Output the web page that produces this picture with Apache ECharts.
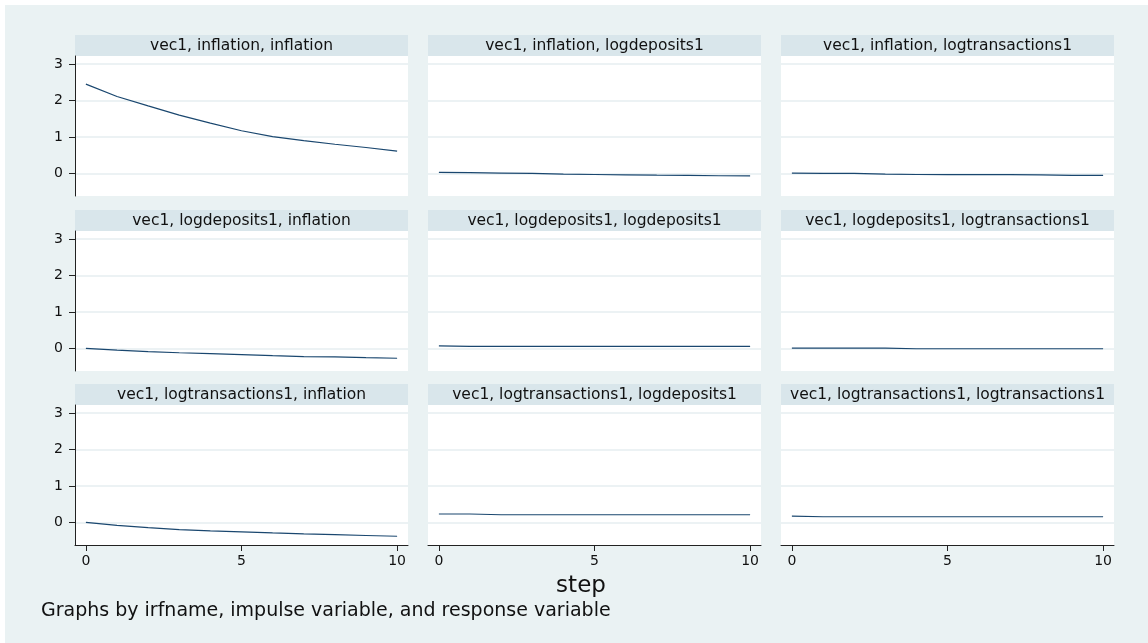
<!DOCTYPE html>
<html>
<head>
<meta charset="utf-8">
<script src="https://cdn.jsdelivr.net/npm/echarts@6/dist/echarts.min.js"></script>
<style>
  html, body { margin: 0; padding: 0; background: #fff; }
  #chart { width: 1148px; height: 643px; }
</style>
</head>
<body>
<div id="chart"></div>
<script>
// irf steps and variables
var steps = [0, 1, 2, 3, 4, 5, 6, 7, 8, 9, 10];
var impulses = ['inflation', 'logdeposits1', 'logtransactions1'];
var responses = ['inflation', 'logdeposits1', 'logtransactions1'];
var xTicks = [0, 5, 10];
var yTicks = [0, 1, 2, 3];

// impulse inflation
var irf_inf_inf = [2.45, 2.11, 1.85, 1.60, 1.38, 1.17, 1.01, 0.90, 0.80, 0.71, 0.61];
var irf_inf_dep = [0.03, 0.02, 0.01, 0.0, -0.02, -0.03, -0.04, -0.05, -0.055, -0.065, -0.07];
var irf_inf_trn = [0.01, 0.0, 0.0, -0.02, -0.03, -0.035, -0.035, -0.035, -0.04, -0.055, -0.055];
// impulse logdeposits1
var irf_dep_inf = [0.0, -0.05, -0.09, -0.12, -0.145, -0.17, -0.2, -0.225, -0.235, -0.255, -0.27];
var irf_dep_dep = [0.07, 0.055, 0.055, 0.055, 0.055, 0.055, 0.055, 0.055, 0.055, 0.055, 0.055];
var irf_dep_trn = [0.01, 0.01, 0.01, 0.01, -0.01, -0.01, -0.01, -0.01, -0.01, -0.01, -0.01];
// impulse logtransactions1
var irf_trn_inf = [0.0, -0.08, -0.145, -0.2, -0.235, -0.26, -0.29, -0.315, -0.335, -0.36, -0.38];
var irf_trn_dep = [0.23, 0.23, 0.21, 0.21, 0.21, 0.21, 0.21, 0.21, 0.21, 0.21, 0.21];
var irf_trn_trn = [0.17, 0.155, 0.155, 0.155, 0.155, 0.155, 0.155, 0.155, 0.155, 0.155, 0.155];

var irf = [
  [irf_inf_inf, irf_inf_dep, irf_inf_trn],
  [irf_dep_inf, irf_dep_dep, irf_dep_trn],
  [irf_trn_inf, irf_trn_dep, irf_trn_trn]
];

var colLeft = [75, 428, 781];
var rowTop = [56, 231, 405];
var plotW = 333, plotH = 140, stripH = 21;
var font = 'DejaVu Sans';

var chart = echarts.init(document.getElementById('chart'));

var grids = [], xAxes = [], yAxes = [], series = [];
var graphics = [
  { type: 'rect', left: 5, top: 5, shape: { width: 1143, height: 638 }, style: { fill: '#eaf2f3' }, z: -10 }
];

for (var r = 0; r < 3; r++) {
  for (var c = 0; c < 3; c++) {
    var i = r * 3 + c;
    grids.push({
      left: colLeft[c], top: rowTop[r], width: plotW, height: plotH,
      show: true, backgroundColor: '#fff', borderWidth: 0
    });
    var bottomRow = (r == 2);
    var firstCol = (c == 0);
    xAxes.push({
      type: 'value', gridIndex: i, min: -0.35, max: 10.35,
      axisLine: { show: bottomRow, onZero: false, lineStyle: { color: '#222', width: 1 } },
      axisTick: { show: bottomRow, customValues: xTicks, length: 6, lineStyle: { color: '#222' } },
      axisLabel: { show: bottomRow, customValues: xTicks, margin: 9, color: '#111', fontFamily: font, fontSize: 14 },
      splitLine: { show: false }
    });
    yAxes.push({
      type: 'value', gridIndex: i, min: -0.62, max: 3.22,
      axisLine: { show: firstCol, onZero: false, lineStyle: { color: '#222', width: 1 } },
      axisTick: { show: firstCol, customValues: yTicks, length: 6, lineStyle: { color: '#222' } },
      axisLabel: { show: firstCol, customValues: yTicks, margin: 12, color: '#111', fontFamily: font, fontSize: 14 },
      splitLine: { show: true, lineStyle: { color: '#e6eef0', width: 1.5 } }
    });
    var pts = [];
    for (var k = 0; k < steps.length; k++) pts.push([steps[k], irf[r][c][k]]);
    series.push({
      type: 'line', xAxisIndex: i, yAxisIndex: i, data: pts,
      showSymbol: false, silent: true,
      lineStyle: { color: '#1a476f', width: 1.2 }
    });
    // strip title over each panel
    graphics.push({
      type: 'rect', left: colLeft[c], top: rowTop[r] - stripH,
      shape: { width: plotW, height: stripH }, style: { fill: '#d9e6eb' }
    });
    graphics.push({
      type: 'text', x: colLeft[c] + plotW / 2, y: rowTop[r] - stripH / 2,
      style: {
        text: 'vec1, ' + impulses[r] + ', ' + responses[c],
        fill: '#111', font: '15.5px "DejaVu Sans"', textAlign: 'center', textVerticalAlign: 'middle'
      }
    });
  }
}

graphics.push({
  type: 'text', x: 581, y: 586,
  style: { text: 'step', fill: '#111', font: '23px "DejaVu Sans"', textAlign: 'center', textVerticalAlign: 'middle' }
});
graphics.push({
  type: 'text', x: 41, y: 611,
  style: { text: 'Graphs by irfname, impulse variable, and response variable', fill: '#111', font: '19px "DejaVu Sans"', textAlign: 'left', textVerticalAlign: 'middle' }
});

chart.setOption({
  backgroundColor: '#fff',
  animation: false,
  grid: grids,
  xAxis: xAxes,
  yAxis: yAxes,
  series: series,
  graphic: graphics
});
</script>
</body>
</html>
